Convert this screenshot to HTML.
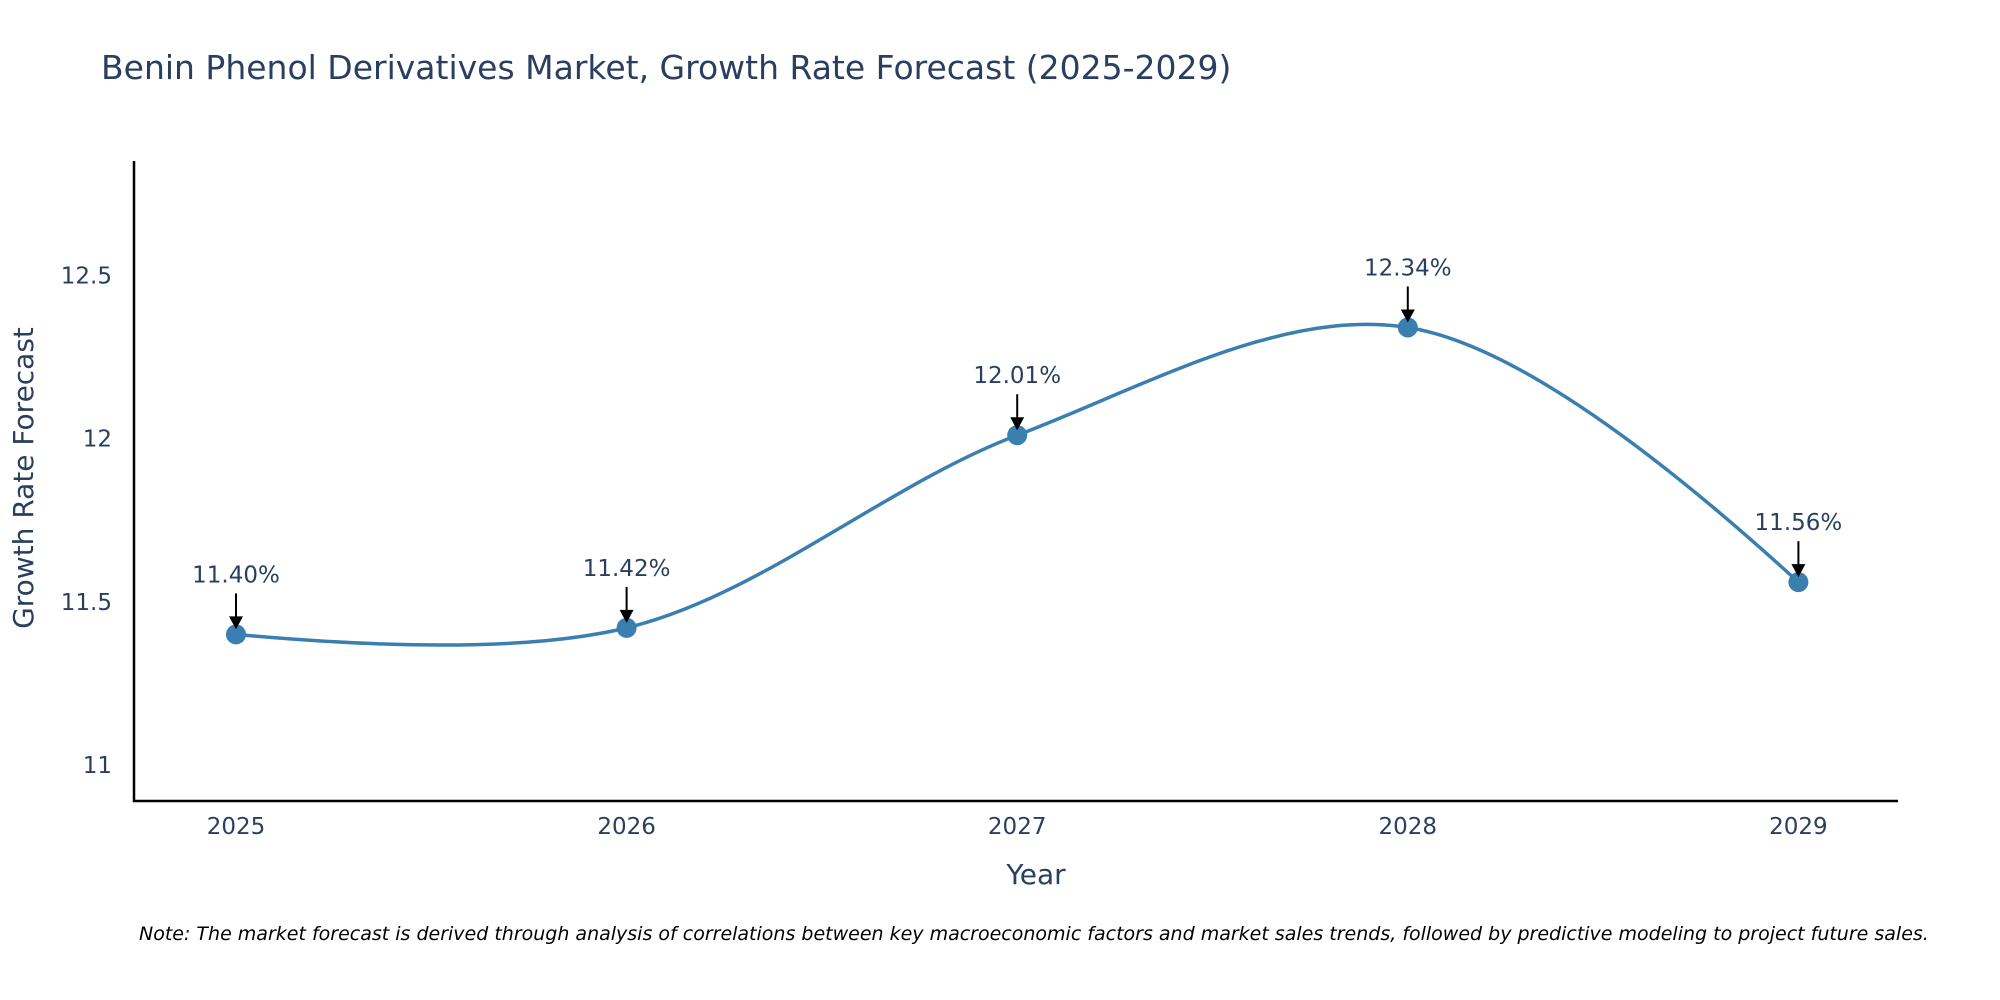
<!DOCTYPE html>
<html><head><meta charset="utf-8"><style>
body{margin:0;background:#fff;}
svg{display:block;font-family:"DejaVu Sans","Liberation Sans",sans-serif;}
</style></head><body>
<svg id="chart" width="2000" height="1000" viewBox="0 0 2000 1000">
<text x="101" y="79" font-size="33" fill="#2a3f5f">Benin Phenol Derivatives Market, Growth Rate Forecast (2025-2029)</text>
<g id="yticks"></g>
<g id="xticks"></g>
<line x1="134" y1="161" x2="134" y2="802" stroke="#000" stroke-width="2.5"/>
<line x1="133" y1="801" x2="1898" y2="801" stroke="#000" stroke-width="2.5"/>
<text x="33" y="478" font-size="28" fill="#2a3f5f" text-anchor="middle" transform="rotate(-90 33 478)">Growth Rate Forecast</text>
<text x="1036" y="884" font-size="28" fill="#2a3f5f" text-anchor="middle">Year</text>
<g id="series"></g>
<g id="annots"></g>
<text x="139" y="940" font-size="19" font-style="italic" fill="#000">Note: The market forecast is derived through analysis of correlations between key macroeconomic factors and market sales trends, followed by predictive modeling to project future sales.</text>
</svg>
<script>
const years = [2025, 2026, 2027, 2028, 2029];
const growth = [11.40, 11.42, 12.01, 12.34, 11.56];
const labels = ["11.40%", "11.42%", "12.01%", "12.34%", "11.56%"];
const yTickVals = [11, 11.5, 12, 12.5];
const yTickLabels = ["11", "11.5", "12", "12.5"];

const NS = "http://www.w3.org/2000/svg";
function X(v){ return 236 + (v - 2025) * 390.6; }
function Y(v){ return 765 - (v - 11) * 326.5; }
function mk(tag, attrs, parent){ const e = document.createElementNS(NS, tag); for (const k in attrs) e.setAttribute(k, attrs[k]); parent.appendChild(e); return e; }

const yt = document.getElementById('yticks');
yTickVals.forEach((v, i) => {
  const t = mk('text', {x: 112, y: Y(v) + 8, 'font-size': 23, fill: '#2a3f5f', 'text-anchor': 'end'}, yt);
  
  
  t.textContent = yTickLabels[i];
});
const xt = document.getElementById('xticks');
years.forEach(v => {
  const t = mk('text', {x: X(v), y: 834, 'font-size': 23, fill: '#2a3f5f', 'text-anchor': 'middle'}, xt);
  
  
  t.textContent = String(v);
});

const pts = years.map((y, i) => [X(y), Y(growth[i])]);
function tangent(p, c, n, s){
  const d1x = p[0]-c[0], d1y = p[1]-c[1], d2x = n[0]-c[0], d2y = n[1]-c[1];
  const d1a = Math.pow(d1x*d1x + d1y*d1y, 0.25), d2a = Math.pow(d2x*d2x + d2y*d2y, 0.25);
  const nx = (d2a*d2a*d1x - d1a*d1a*d2x)*s, ny = (d2a*d2a*d1y - d1a*d1a*d2y)*s;
  const den1 = 3*d2a*(d1a+d2a), den2 = 3*d1a*(d1a+d2a);
  return [[c[0]+nx/den1, c[1]+ny/den1], [c[0]-nx/den2, c[1]-ny/den2]];
}
const tg = [];
for (let i = 1; i < pts.length - 1; i++) tg.push(tangent(pts[i-1], pts[i], pts[i+1], 1));
let d = 'M' + pts[0].join(',') + 'Q' + tg[0][0].join(',') + ' ' + pts[1].join(',');
for (let i = 1; i < tg.length; i++) d += 'C' + tg[i-1][1].join(',') + ' ' + tg[i][0].join(',') + ' ' + pts[i+1].join(',');
d += 'Q' + tg[tg.length-1][1].join(',') + ' ' + pts[pts.length-1].join(',');
const ser = document.getElementById('series');
const line = mk('path', {d: d, fill: 'none', stroke: '#3a7fb0', 'stroke-width': 3.5}, ser);


pts.forEach(p => {
  const c = mk('circle', {cx: p[0], cy: p[1], r: 10, fill: '#3a7fb0'}, ser);
  
  
});

const an = document.getElementById('annots');
pts.forEach((p, i) => {
  const l = mk('line', {x1: p[0], y1: p[1]-41, x2: p[0], y2: p[1]-16, stroke: '#000', 'stroke-width': 2}, an);
  
  
  const h = mk('polygon', {points: `${p[0]-7},${p[1]-18} ${p[0]+7},${p[1]-18} ${p[0]},${p[1]-5}`, fill: '#000'}, an);
  
  
  const t = mk('text', {x: p[0], y: p[1]-52, 'font-size': 23, fill: '#2a3f5f', 'text-anchor': 'middle'}, an);
  
  
  t.textContent = labels[i];
});
</script>
</body></html>
